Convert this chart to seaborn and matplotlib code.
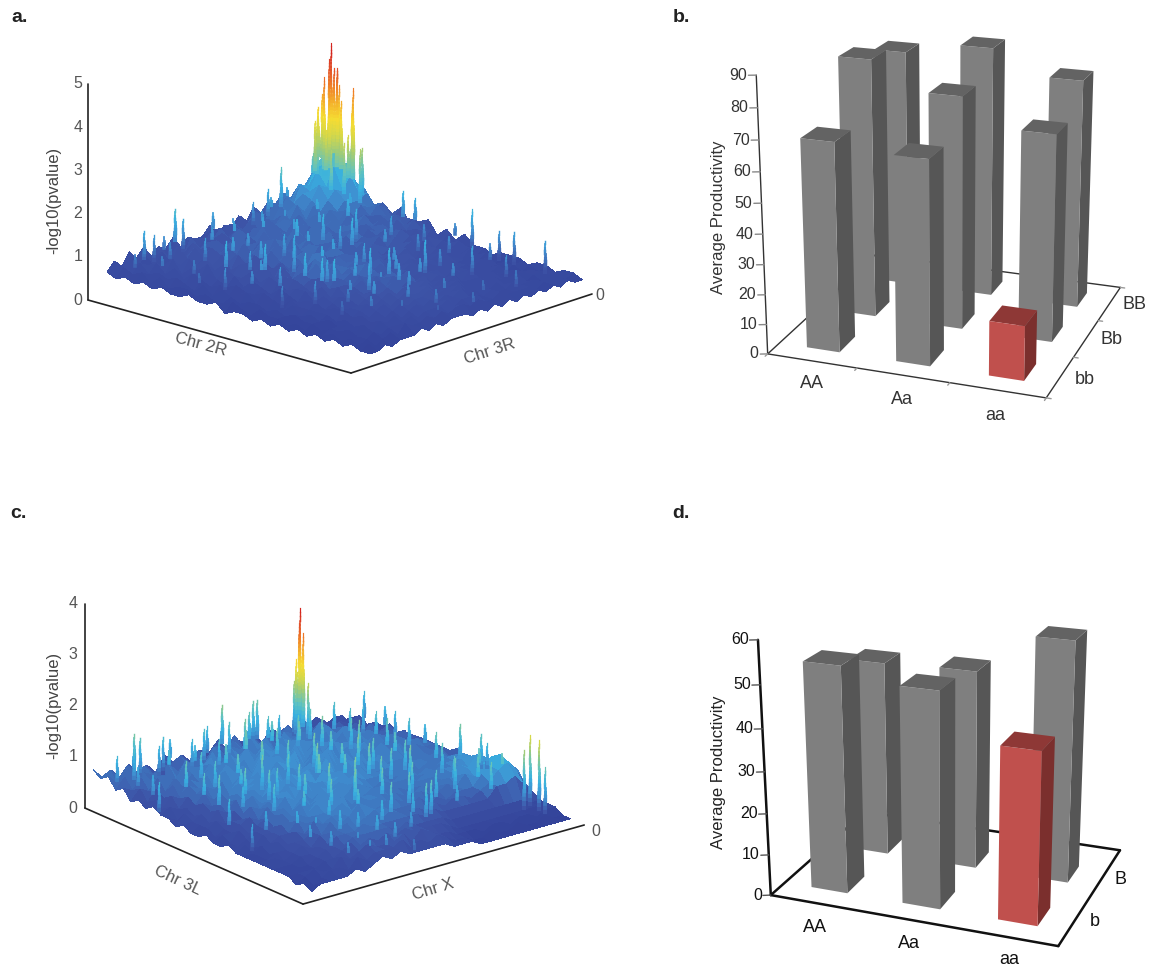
import numpy as np
import matplotlib
matplotlib.use("Agg")
import matplotlib.pyplot as plt
import seaborn as sns
from mpl_toolkits.mplot3d import proj3d
from mpl_toolkits.mplot3d.art3d import Line3DCollection

W, H = 1155, 969

# -log10(pvalue) heights read off the surfaces, in tenths
# rows run along Chr 2R / Chr 3L, columns along Chr 3R / Chr X
surface_a = [
    [5,7,5,8,6,8,5,7,6,8,5,7,6,6,8,5,7,6,8,6,9,7,9,8,10,8,10,10,12,10],
    [4,6,6,5,7,6,8,5,8,6,8,7,5,8,6,8,6,9,7,9,7,10,8,11,9,12,11,14,13,12],
    [5,5,7,6,5,8,6,8,6,9,6,8,7,9,6,9,7,8,10,7,10,8,11,9,13,12,16,18,17,13],
    [4,6,5,7,6,6,9,6,9,7,8,6,9,7,9,6,10,7,9,8,11,9,10,12,12,16,17,20,16,14],
    [5,4,6,5,8,6,7,9,6,8,9,7,8,10,7,9,7,10,8,10,8,11,9,11,14,13,17,17,17,12],
    [4,6,5,7,5,8,6,7,9,7,8,9,7,9,8,10,8,9,10,8,10,8,11,9,11,13,12,15,11,11],
    [5,4,6,5,7,6,8,6,8,9,7,10,8,8,10,7,9,8,10,9,8,10,8,10,9,11,10,10,11,8],
    [4,5,5,7,5,8,6,9,7,8,10,7,9,9,7,10,8,10,7,9,10,8,10,8,10,8,10,9,8,9],
    [4,5,4,6,7,5,8,6,9,7,8,10,7,10,9,8,10,8,10,8,9,10,8,10,8,9,8,10,9,7],
    [5,4,6,5,6,8,6,8,7,9,8,8,10,7,10,8,9,10,8,10,8,9,9,8,10,7,9,8,7,9],
    [4,5,4,6,5,7,6,9,6,8,10,7,9,9,8,10,8,9,10,7,9,10,7,9,8,9,8,9,8,6],
    [4,4,6,4,6,5,8,6,8,7,8,10,8,9,10,7,9,10,7,9,10,7,9,8,9,7,9,7,8,7],
    [5,4,5,5,5,7,6,9,6,9,7,9,10,7,10,8,10,7,9,8,9,8,8,9,8,8,7,9,6,8],
    [3,5,4,6,5,6,8,6,9,7,10,7,10,9,8,10,7,9,8,9,7,9,8,7,9,6,8,7,7,5],
    [4,4,5,4,6,5,7,8,7,10,7,10,11,7,9,9,8,9,7,9,8,7,9,7,8,8,6,8,5,7],
    [4,3,5,5,5,7,6,8,9,8,10,9,8,10,8,8,9,7,9,7,8,8,7,8,6,8,7,5,7,5],
    [3,5,4,6,4,6,7,7,8,10,7,10,9,8,9,9,7,9,7,8,7,8,6,8,7,6,7,6,5,7],
    [4,4,5,4,6,5,7,6,9,8,10,8,9,9,8,8,9,7,8,7,8,6,8,6,7,6,6,7,5,5],
    [3,4,4,6,5,6,5,8,7,9,8,9,8,10,8,9,7,8,7,8,7,7,6,7,6,7,5,6,6,5],
    [4,3,5,4,5,6,7,6,8,8,7,9,8,9,7,8,8,7,8,6,7,7,6,7,6,5,7,5,6,4],
    [3,4,4,5,5,5,6,7,6,8,9,7,9,8,9,7,8,6,8,6,7,6,7,6,6,6,5,6,4,5],
    [4,3,4,4,5,6,5,7,8,7,7,9,7,9,8,9,6,8,7,7,6,7,6,6,5,6,6,4,5,5],
    [3,4,3,5,4,6,6,6,7,8,7,8,9,7,8,7,8,6,7,6,7,6,6,5,6,5,5,5,4,5],
    [4,3,4,4,5,5,6,7,6,7,8,7,8,8,7,8,6,7,6,7,5,7,5,6,5,6,4,5,5,4],
    [3,4,4,5,4,6,5,6,7,6,7,8,7,7,8,6,7,6,7,5,6,6,5,6,5,5,5,4,5,5],
    [4,3,5,4,5,5,6,5,6,7,6,7,7,8,6,7,6,7,5,6,6,5,6,5,5,5,5,5,4,5],
    [3,4,4,4,4,6,5,6,5,6,7,6,7,6,7,6,7,5,6,6,5,6,5,5,6,4,5,5,5,4],
    [4,3,4,5,4,5,5,5,6,5,6,6,6,7,5,6,6,6,5,6,5,5,6,5,5,5,4,5,5,5],
    [3,4,3,4,5,4,6,5,5,6,5,6,5,6,6,5,6,5,5,6,5,5,5,5,4,5,5,5,4,5],
    [3,3,4,3,4,4,4,5,4,5,4,5,5,5,4,5,4,5,4,5,4,5,4,5,4,5,4,5,4,4],
]
surface_c = [
    [7,5,6,4,6,4,5,3,6,4,5,3,5,4,6,3,5,4,5,3,5,4,3,4,4,5,3,4,3,3],
    [6,7,5,7,5,6,4,6,5,6,4,6,4,6,5,7,4,6,4,6,5,6,4,5,4,5,3,5,3,4],
    [7,5,7,5,7,5,6,5,7,5,7,5,7,5,7,5,7,5,6,5,7,5,7,5,6,4,5,4,5,3],
    [5,7,5,7,6,6,7,5,6,7,5,8,5,7,6,8,6,7,5,7,6,7,5,7,5,6,4,6,4,4],
    [6,5,7,6,5,8,5,8,6,6,8,5,8,6,7,6,8,5,8,6,7,6,8,6,6,5,6,4,5,4],
    [4,6,5,7,6,6,8,6,7,8,6,8,6,8,6,8,6,8,7,6,8,6,8,6,7,6,5,6,4,5],
    [5,4,6,5,7,5,7,6,8,6,8,6,9,6,8,7,8,6,8,7,6,8,6,8,7,5,7,5,6,4],
    [4,5,5,7,5,7,6,8,6,8,6,8,6,8,7,8,6,9,6,8,7,6,8,6,7,7,5,6,5,5],
    [5,4,6,5,7,6,8,6,8,7,8,6,9,7,8,6,9,6,8,6,8,7,6,8,6,7,6,6,6,4],
    [4,5,4,6,6,7,6,8,6,8,6,9,6,8,7,9,6,8,7,8,6,8,7,6,8,6,7,5,6,5],
    [4,3,5,5,7,5,8,6,8,7,8,7,8,7,9,6,8,6,9,6,8,7,8,6,7,6,7,6,5,5],
    [3,5,4,6,5,7,6,8,7,8,6,9,6,8,7,8,6,9,6,8,6,8,6,8,6,7,6,7,6,5],
    [4,4,5,5,6,6,7,7,8,6,9,7,8,7,8,7,9,6,8,7,8,6,8,6,8,6,7,6,6,5],
    [3,4,4,6,5,7,6,8,6,9,6,8,7,9,6,8,7,8,7,8,6,8,6,8,6,7,6,6,6,5],
    [3,4,5,4,6,5,8,6,8,7,8,7,8,7,9,7,8,6,8,6,8,7,7,7,6,7,6,7,5,6],
    [4,3,4,5,5,7,6,7,7,8,6,9,6,8,7,8,7,8,7,7,7,7,6,7,7,6,7,6,6,5],
    [3,4,4,5,6,5,7,6,8,7,8,6,8,7,8,7,8,7,7,7,6,7,7,6,7,6,7,7,6,5],
    [3,3,5,4,5,6,6,7,6,8,6,8,7,8,6,8,7,6,7,6,7,7,6,7,6,7,7,8,7,6],
    [4,3,4,5,5,5,7,6,8,6,8,7,7,7,8,6,7,7,6,7,7,6,7,7,7,7,8,8,7,5],
    [3,4,3,5,5,6,6,7,6,8,7,7,8,6,7,7,7,6,7,6,6,7,7,6,7,8,7,9,8,6],
    [3,3,4,4,5,5,7,6,7,7,7,8,6,7,7,7,6,7,6,6,7,6,6,7,7,8,9,8,8,6],
    [3,3,3,5,4,6,5,7,6,7,7,6,8,7,6,7,7,6,6,7,6,6,7,6,8,7,9,10,8,6],
    [3,3,4,4,5,5,6,5,7,6,7,7,6,7,7,6,6,6,7,5,6,5,6,6,6,8,9,11,9,7],
    [3,4,3,4,5,4,6,6,6,7,6,7,7,6,7,6,6,6,5,6,5,6,6,5,6,7,9,10,8,5],
    [3,3,3,4,4,5,5,6,6,6,7,6,6,6,6,6,6,5,6,5,5,5,5,5,5,7,7,8,6,4],
    [3,3,3,3,4,5,5,5,6,6,6,6,6,5,6,5,5,5,5,4,4,4,4,4,4,4,4,4,3,3],
    [3,3,3,3,4,4,5,6,5,6,5,6,5,6,5,5,5,5,4,3,3,3,3,3,3,3,3,3,3,3],
    [2,3,4,3,3,5,4,5,6,5,5,5,6,4,6,5,4,4,3,3,3,2,3,3,2,3,3,2,3,3],
    [3,2,3,4,4,3,5,4,5,5,5,6,4,5,4,5,4,3,3,2,2,3,2,2,3,2,2,3,2,2],
    [2,3,3,3,3,4,3,4,5,4,5,4,4,4,4,4,3,3,3,2,2,2,2,2,2,2,2,2,2,2],
]

# narrow peaks on top of the surfaces: row, column, height in tenths
spikes_a = [
    (2.9,27,45),(2.7,27,41),(3.5,27,40),(3.2,27,40),(3.6,27,39),(1.9,27,33),(1.5,27,30),
    (5.3,27,36),(5,27.2,32),(1.3,27,26),(6,27.1,22),(0.9,27,18),(4.8,27,25),(2.5,26.5,37),
    (3.3,26.2,34),(4.2,26.8,33),(3,28,35),(2,28,31),(4.5,27.9,30),(1.7,26.3,27),(5,26.2,24),
    (3.5,25.5,26),(2.3,25.6,24),(4.3,25.2,22),(1.2,28.3,20),(5.5,28,22),
    (0.5,4.4,13),(0.5,5.7,11),(0.5,7.1,10),(0.5,8.6,16),(0.5,9.7,13),(0.5,13.8,12),(0.5,19.3,11),
    (0.5,21.3,13),(0.5,23.1,17),(0.5,23.9,12),(9.6,28.5,14),(11,28.5,13),(15.4,28.5,10),
    (17.2,28.5,14),(20.2,28.5,11),(21.9,28.5,12),(25.3,28.5,12),
    (17.2,8,14),(18,8.7,14),(15.3,8,14),(19.2,14.7,14),(11.6,19.1,14),(10,21.6,14),(7.7,23.4,14),
    (19.6,19.2,14),(11.1,7.8,14),(8.3,15.7,14),(8.2,6,14),(9.1,18.2,14),(18.1,13.5,14),
    (20.3,12.3,10),(20.8,14.1,12),(22,22.6,12),(11.6,6.6,11),(10,3.7,10),(20.2,7.8,9),
    (1.3,2.2,9),(1.8,6.4,10),(2.4,11.3,11),(1.6,15.2,10),(2.7,17.8,11),(1.4,20.6,12),(3.3,3.4,9),
    (4.2,8.1,11),(3.6,12.9,12),(4.7,15.4,12),(4.1,19.2,11),(5.3,22.1,13),(5.9,4.6,9),(6.4,9.3,12),
    (5.7,12.2,11),(6.8,17.1,12),(7.1,20.2,12),(6.3,25.4,13),(7.9,2.8,8),(8.6,10.4,12),(8.9,13.1,12),
    (9.4,7.9,11),(9.9,15.2,12),(10.6,12.4,13),(10.9,18.3,12),(11.4,24.6,11),(12.1,4.8,10),(12.4,10.2,13),
    (12.9,14.9,12),(13.1,21.7,11),(13.6,26.4,10),(14.1,6.1,11),(14.3,11.6,13),(14.8,16.8,11),(15.1,23.8,10),
    (15.9,4.2,9),(16.2,9.9,12),(16.4,13.7,12),(16.9,18.2,11),(17.3,25.3,10),(17.8,6.3,10),(18.3,11.2,12),
    (18.6,16.4,11),(19.1,21.8,10),(19.7,8.8,10),(20.1,10.9,13),(20.6,17.2,11),(21.1,26.2,10),(21.4,5.6,8),
    (21.9,9.3,11),(22.3,13.6,11),(22.6,19.3,10),(23.1,7.4,9),(23.7,11.7,10),(24.1,16.1,9),(24.4,24.3,10),
    (25.1,9.2,8),(25.6,13.2,9),(26.2,18.9,8),(26.8,22.7,9),(27.3,11.4,7),(27.8,15.6,8),
]
spikes_c = [
    (2,21.5,30),(2.2,21.6,25),(1.9,21.4,27),(1.7,21.3,20),(2.4,21.5,22),(2.6,21.3,18),
    (1.5,21.6,17),(3,21.5,16),(1,21.6,15),
    (0.5,4.1,13),(0.5,4.8,12),(0.5,7.4,11),(0.5,8.2,10),(0.5,12.3,10),(0.5,14,14),(0.5,17.5,13),
    (0.5,17.9,13),(2.2,19,10),(3.6,24,11),(5.7,24,11),(2.2,28.5,10),(5.6,28,10),(11,27.9,10),
    (15.6,27.9,13),(17.6,28.6,12),(18,29,10),(25.5,26.8,15),(25.2,27.7,17),(26.6,27.5,17),
    (27.4,27.5,12),(12,6.9,12),(14,11.2,12),(21.9,14.9,12),(23.7,17.3,12),(15,2.6,10),
    (19.9,6.1,9),(23,10.3,9),(15.7,20.1,12),(13,20.4,12),(8.1,22,12),(20.9,22.9,12),
    (20.3,26.1,12),(22.6,26.8,12),(23,16.4,10),(8,0.6,10),(10,4,11),(7.6,4,12),(12.8,9.8,11),
    (21.2,7.1,8),(19,1.8,8),(11.7,4.2,12),(23.4,18.1,12),
    (1.2,1.6,10),(1.7,3.1,11),(1.4,6.2,10),(2.1,9.3,10),(1.6,11.1,11),(2.4,13.2,12),(1.9,15.8,12),
    (2.8,17.2,11),(3.1,2.4,9),(3.6,5.4,11),(3.2,8.7,10),(4.1,10.6,11),(3.7,13.9,13),(4.4,16.3,12),
    (4.8,18.9,12),(4.3,20.7,12),(4.9,26.1,10),(5.4,2.1,9),(5.8,7.2,11),(6.2,9.6,12),(5.6,12.4,13),
    (6.3,15.3,12),(6.7,17.4,13),(7.1,19.6,13),(7.6,25.3,11),(7.4,27.6,10),(8.2,6.7,11),(8.7,8.9,12),
    (8.4,11.8,13),(9.1,14.2,12),(9.6,16.6,13),(9.3,18.8,12),(9.9,21.4,13),(10.2,24.3,12),(10.4,26.6,11),
    (10.8,7.4,11),(11.1,9.6,13),(11.4,12.2,12),(11.8,15.1,13),(12.1,17.7,12),(12.4,19.2,13),(12.7,23.1,12),
    (13.2,5.6,10),(13.4,8.4,12),(13.8,13.7,13),(14.2,16.2,12),(14.6,18.6,13),(14.9,22.4,12),(15.2,25.6,12),
    (15.6,7.1,11),(15.9,10.3,12),(16.2,12.8,13),(16.5,15.4,13),(16.8,18.1,12),(17.1,21.1,13),(17.4,24.4,12),
    (17.8,4.4,9),(18.1,8.3,11),(18.4,11.1,12),(18.7,13.6,13),(19.1,16.3,12),(19.4,19.4,12),(19.8,23.7,11),
    (20.2,9.4,10),(20.6,12.3,11),(21.1,17.6,12),(21.4,20.4,11),(21.7,24.8,12),(22.2,5.6,8),(22.4,8.8,10),
    (22.8,13.1,10),(23.2,21.2,9),(23.7,24.6,12),(24.1,6.3,8),(24.4,11.2,9),(24.8,14.7,8),(25.2,8.4,7),
    (25.7,12.1,8),(26.3,6.4,7),(26.7,10.3,7),(27.2,8.1,7),(28.1,12.2,6),
]

# bar heights, rows are genotype at first locus, columns second locus
genotypes_first = ["AA", "Aa", "aa"]
genotypes_second_b = ["bb", "Bb", "BB"]
genotypes_second_d = ["b", "B"]
productivity_b = [[69, 87, 82], [67, 78, 86], [18, 69, 78]]
productivity_d = [[54, 48], [51, 48.5], [40.5, 58]]

sns.set_theme(style="white")
plt.rcParams["font.family"] = ["Liberation Sans", "DejaVu Sans"]

surface_cmap = sns.blend_palette(["#2c3b92", "#35469c", "#3d54a7", "#3f8fd0", "#38b0e0", "#60c3c0", "#9ccb7c",
                                  "#d5d84a", "#f6dc32", "#f4b02c", "#ef7d28", "#e2502a", "#d4261f"], as_cmap=True)

fig = plt.figure(figsize=(W / 100, H / 100), dpi=100, facecolor="white")


def project(ax, pts):
    pts = np.asarray(pts, dtype=float)
    x, y, _ = proj3d.proj_transform(pts[:, 0], pts[:, 1], pts[:, 2], ax.get_proj())
    return ax.transData.transform(np.c_[x, y])


def new_axes(xlim, ylim, zlim, elev, azim, focal, aspect, zoom, pts, target):
    ax = fig.add_axes([0, 0, H / W, 1], projection="3d")
    ax.set_axis_off()
    ax.patch.set_alpha(0)
    ax.computed_zorder = False
    ax.set_xlim(*xlim)
    ax.set_ylim(*ylim)
    ax.set_zlim(*zlim)
    ax.view_init(elev=elev, azim=azim)
    if focal is None:
        ax.set_proj_type("ortho")
    else:
        ax.set_proj_type("persp", focal_length=focal)
    ax.set_box_aspect(aspect, zoom=zoom)
    ax.apply_aspect()
    # slide the axes so the floor corners land where they sit in the figure
    target = np.array(target, dtype=float)
    target[:, 1] = H - target[:, 1]
    shift = (target - project(ax, pts)).mean(axis=0)
    pos = ax.get_position()
    ax.set_position([pos.x0 + shift[0] / W, pos.y0 + shift[1] / H, pos.width, pos.height])
    ax.apply_aspect()
    return ax


def label(x, y, s, **kw):
    kw.setdefault("ha", "center")
    kw.setdefault("va", "center")
    fig.text(x / W, 1 - y / H, s, **kw)


def draw_lines(ax, segments, **kw):
    for seg in segments:
        s = np.array(seg)
        ax.plot(s[:, 0], s[:, 1], s[:, 2], zorder=1, **kw)


def draw_surface(ax, heights, spikes, ymin, ymax, vmax):
    z = np.array(heights) / 10
    n, m = z.shape
    x, y = np.meshgrid(np.linspace(0, 1, n), np.linspace(ymin, ymax, m), indexing="ij")
    level = (z[:-1, :-1] + z[1:, :-1] + z[:-1, 1:] + z[1:, 1:]) / 4
    ax.plot_surface(x, y, z, facecolors=surface_cmap(level / vmax), rstride=1, cstride=1,
                    shade=False, linewidth=0, antialiased=False, zorder=3)
    # each peak is one tapered stem, coloured by height along its length
    segs, cols, widths = [], [], []
    for i, j, h in sorted(spikes, key=lambda s: s[0] - s[1]):
        base = z[int(round(i)), int(round(j))]
        px = i / (n - 1)
        py = ymin + (ymax - ymin) * j / (m - 1)
        levels = np.arange(base, h / 10, 0.08)
        for a, b in zip(levels[:-1], levels[1:]):
            segs.append([(px, py, a), (px, py, b)])
            cols.append(surface_cmap(b / vmax + 0.04))
            widths.append(0.8 + 2.4 * (h / 10 - b) / (h / 10 - base))
    stems = Line3DCollection(segs, colors=cols, linewidths=widths, capstyle="projecting", zorder=4)
    ax.add_collection3d(stems, autolim=False)


def draw_bars(ax, heights, bar_w, bar_d, rows):
    none = (0, 0, 0, 0)
    order = 10
    for j in range(len(heights[0]) - 1, -1, -1):
        for i in range(len(heights)):
            if i == 2 and j == 0:
                top, front, side = "#8e3836", "#c0504d", "#7b2f2d"
            else:
                top, front, side = "#636363", "#7f7f7f", "#565656"
            ax.bar3d(i + 0.5 - bar_w / 2, rows[j] - bar_d / 2, 0, bar_w, bar_d, heights[i][j],
                     color=[none, top, front, none, none, side], shade=False,
                     edgecolor="none", linewidth=0, zorder=order)
            order += 1


# panel a
ax = new_axes((0, 1), (0, 1), (0, 5), 17.556, -47.38, None, (1, 0.996, 0.634), 0.554,
              [(0, 0, 0), (1, 0, 0), (1, 1, 0), (0, 0, 5)],
              [(88, 300), (351, 373), (592, 294), (88, 84)])
draw_surface(ax, surface_a, spikes_a, 0.08, 0.96, 4.5)
draw_lines(ax, ([(0, 0, 0), (0, 0, 5)], [(0, 0, 0), (1, 0, 0)], [(1, 0, 0), (1, 1, 0)]), color="#222222", lw=1.2)
for z in range(6):
    q = project(ax, [(0, 0, z)])[0]
    label(q[0] - 10, H - q[1], str(z), fontsize=11.5, color="#555555")
label(600, 295, "0", fontsize=11.5, color="#555555")
label(201, 344, "Chr 2R", fontsize=12, color="#555555", rotation=-15)
label(490, 352, "Chr 3R", fontsize=12, color="#555555", rotation=18)
label(54, 200, "-log10(pvalue)", fontsize=12, color="#444444", rotation=90)

# panel c
ax = new_axes((0, 1), (0, 1), (0, 4), 20.601, -38.625, None, (1, 1.03, 0.624), 0.548,
              [(0, 0, 0), (1, 0, 0), (1, 1, 0), (0, 0, 4)],
              [(85, 808), (303, 904), (584, 825), (85, 604)])
draw_surface(ax, surface_c, spikes_c, 0.03, 0.95, 3.05)
draw_lines(ax, ([(0, 0, 0), (0, 0, 4)], [(0, 0, 0), (1, 0, 0)], [(1, 0, 0), (1, 1, 0)]), color="#222222", lw=1.2)
for z in range(5):
    q = project(ax, [(0, 0, z)])[0]
    label(q[0] - 12, H - q[1], str(z), fontsize=11.5, color="#555555")
label(596, 832, "0", fontsize=11.5, color="#555555")
label(178, 880, "Chr 3L", fontsize=12, color="#555555", rotation=-25)
label(433, 889, "Chr X", fontsize=12, color="#555555", rotation=17)
label(54, 705, "-log10(pvalue)", fontsize=12, color="#444444", rotation=90)

# panel b
ax = new_axes((0, 3), (0, 3), (0, 90), 19.366, -70.365, 0.314, (1, 0.984, 0.994), 0.49,
              [(0, 0, 0), (3, 0, 0), (3, 3, 0), (0, 3, 0), (0, 0, 90)],
              [(768, 353), (1046, 399), (1121, 286), (875, 256), (756, 75)])
draw_bars(ax, productivity_b, 0.37, 0.42, (0.5, 1.5, 2.5))
draw_lines(ax, ([(0, 0, 0), (0, 0, 90)], [(0, 0, 0), (3, 0, 0)], [(3, 0, 0), (3, 3, 0)],
                [(3, 3, 0), (0, 3, 0)], [(0, 3, 0), (0, 0, 0)]), color="#333333", lw=1)
for z in range(0, 100, 10):
    draw_lines(ax, ([(0, 0, z), (-0.07, -0.03, z)],), color="#888888", lw=1)
    q = project(ax, [(0, 0, z)])[0]
    label(q[0] - 9, H - q[1], str(z), fontsize=11.5, color="#333333", ha="right")
for k in range(4):
    draw_lines(ax, ([(k, 0, 0), (k, -0.06, 0)], [(3, k, 0), (3.05, k, 0)]), color="#999999", lw=1)
for x, y, s in zip((812, 902, 995), (383, 399, 415), genotypes_first):
    label(x, y, s, fontsize=13, color="#333333")
for x, y, s in zip((1085, 1111, 1134), (380, 340, 305), genotypes_second_b):
    label(x, y, s, fontsize=13, color="#333333")
label(719, 217, "Average Productivity", fontsize=12, color="#333333", rotation=90)

# panel d
ax = new_axes((0, 3), (0, 2), (0, 60), 20.383, -69.168, 0.265, (1, 0.767, 0.883), 0.46,
              [(0, 0, 0), (3, 0, 0), (3, 2, 0), (0, 2, 0), (0, 0, 60)],
              [(770, 897), (1059, 944), (1119, 853), (866, 809), (758, 640)])
draw_bars(ax, productivity_d, 0.4, 0.36, (0.45, 1.34))
draw_lines(ax, ([(0, 0, 0), (0, 0, 60)], [(0, 0, 0), (3, 0, 0)], [(3, 0, 0), (3, 2, 0)],
                [(3, 2, 0), (0, 2, 0)], [(0, 2, 0), (0, 0, 0)]), color="#111111", lw=1.8)
for z in range(0, 70, 10):
    draw_lines(ax, ([(0, 0, z), (-0.07, -0.03, z)],), color="#555555", lw=1)
    q = project(ax, [(0, 0, z)])[0]
    label(q[0] - 9, H - q[1], str(z), fontsize=11.5, color="#111111", ha="right")
for x, y, s in zip((815, 909, 1009), (928, 943, 959), genotypes_first):
    label(x, y, s, fontsize=13, color="#111111")
for x, y, s in zip((1095, 1120), (921, 880), genotypes_second_d):
    label(x, y, s, fontsize=13, color="#111111")
label(719, 772, "Average Productivity", fontsize=12, color="#222222", rotation=90)

for x, y, s in zip((20, 681, 18, 681), (18, 18, 513, 513), ("a.", "b.", "c.", "d.")):
    label(x, y, s, fontsize=14, fontweight="bold", color="#222222")

fig.savefig("out.png", dpi=100)
